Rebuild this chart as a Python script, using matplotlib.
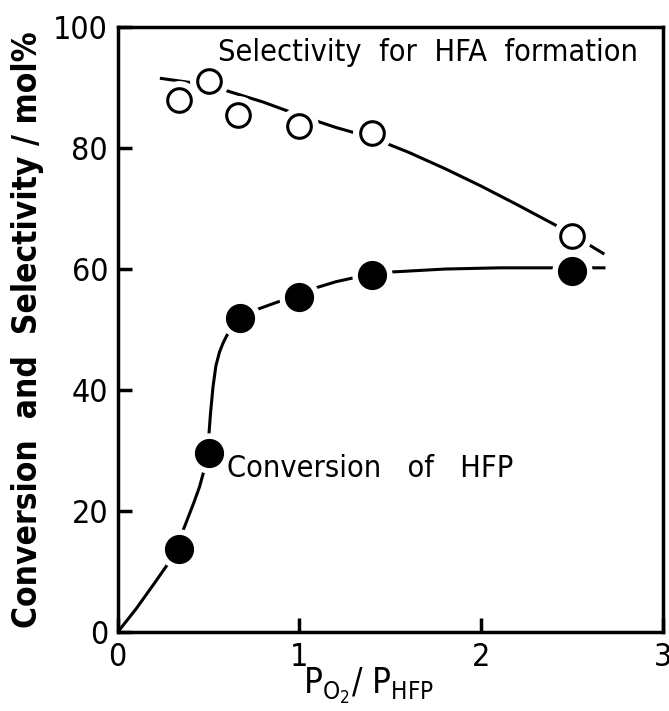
import matplotlib

matplotlib.use("Agg")

import matplotlib.pyplot as plt

# measured points
ratio = [0.336, 0.50, 0.67, 1.0, 1.40, 2.50]
conversion = [13.8, 29.6, 51.9, 55.3, 59.0, 59.7]
sel_ratio = [0.336, 0.50, 0.66, 1.0, 1.40, 2.50]
selectivity = [87.9, 91.1, 85.5, 83.6, 82.5, 65.5]

# hand-drawn trend curves
conv_curve_x = [0.0, 0.1, 0.2, 0.3, 0.375, 0.42, 0.45, 0.48, 0.5, 0.51, 0.524, 0.54,
                0.56, 0.58, 0.6, 0.64, 0.68, 0.755, 0.875, 1.0, 1.08, 1.2, 1.32,
                1.5, 1.8, 2.1, 2.5, 2.675]
conv_curve_y = [0.0, 3.8, 8.0, 12.3, 18.0, 21.5, 24.0, 27.3, 32.0, 36.0, 40.5, 44.0,
                46.3, 47.8, 49.0, 50.7, 51.9, 53.2, 54.5, 55.8, 56.8, 57.9, 58.7,
                59.5, 60.0, 60.2, 60.2, 60.2]
sel_curve_x = [0.24, 0.43, 0.585, 0.8, 1.0, 1.2, 1.4, 1.6, 1.8, 2.0, 2.2, 2.4, 2.5, 2.67]
sel_curve_y = [91.5, 90.7, 89.6, 87.6, 85.4, 83.4, 81.7, 79.3, 76.6, 73.7, 70.6, 67.4,
               65.7, 62.6]

plt.rcParams["font.family"] = ["DejaVu Sans"]
plt.rcParams["font.stretch"] = "condensed"

fig = plt.figure(figsize=(6.69, 7.11), dpi=100)
ax = fig.add_axes([0.176, 0.111, 0.815, 0.851])

ax.plot(conv_curve_x, conv_curve_y, color="black", lw=2.2, zorder=2)
ax.plot(sel_curve_x, sel_curve_y, color="black", lw=2.2, zorder=2)

# white halo so the curves break around the symbols
ax.plot(ratio, conversion, "o", ms=28, color="white", zorder=3)
ax.plot(sel_ratio, selectivity, "o", ms=27, color="white", zorder=3)
ax.plot(ratio, conversion, "o", ms=20, color="black", zorder=4)
ax.plot(sel_ratio, selectivity, "o", ms=17, mfc="white", mec="black", mew=2.2, zorder=4)

ax.text(0.55, 95.8, "Selectivity  for  HFA  formation", fontsize=22, va="center", ha="left")
ax.text(0.60, 27.0, "Conversion   of   HFP", fontsize=22, va="center", ha="left")

ax.set_xlim(0, 3)
ax.set_ylim(0, 100)
ax.set_xticks([0, 1, 2, 3])
ax.set_yticks([0, 20, 40, 60, 80, 100])
ax.tick_params(direction="in", length=10, width=2.5, labelsize=23, pad=7)
for side in ax.spines.values():
    side.set_linewidth(2.5)

ax.set_xlabel(r"P$_{\mathregular{O_2}}$/ P$_{\mathregular{HFP}}$", fontsize=25)
ax.xaxis.set_label_coords(0.46, -0.056)
ax.set_ylabel("Conversion  and  Selectivity / mol%", fontsize=24, fontweight="bold")
ax.yaxis.set_label_coords(-0.135, 0.5)

fig.savefig("out.png", dpi=100)
